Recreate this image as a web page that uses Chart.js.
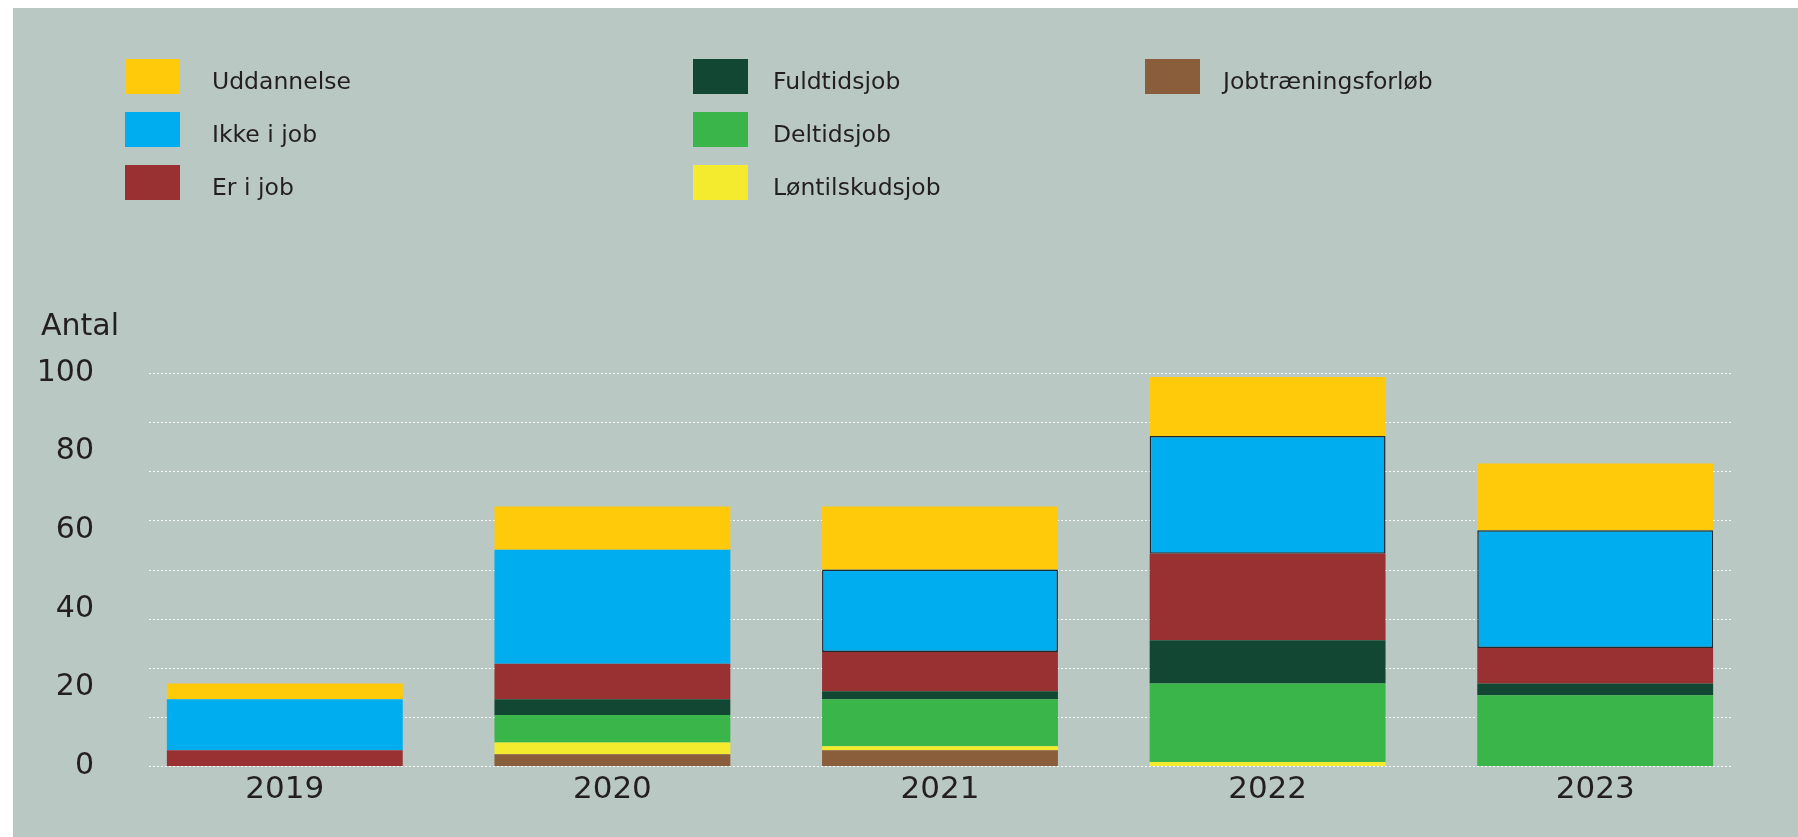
<!DOCTYPE html>
<html>
<head>
<meta charset="utf-8">
<script src="https://cdn.jsdelivr.net/npm/chart.js@4.4.0/dist/chart.umd.min.js"></script>
<style>
  html, body { margin: 0; padding: 0; background: #fff; }
  body { width: 1798px; height: 837px; position: relative; overflow: hidden;
         font-family: "DejaVu Sans", Verdana, sans-serif; color: #231f20; }
  #panel { position: absolute; left: 13px; top: 8px; right: 0; bottom: 0; background: #b9c8c2; }
  #chartBox { position: absolute; left: 0; top: 0; width: 1798px; height: 837px; }
  .legend-item { position: absolute; height: 35px; }
  .swatch { position: absolute; left: 0; top: 0; width: 55px; height: 35px; }
  .legend-label { position: absolute; top: 5px; line-height: 35px; font-size: 23.5px; white-space: nowrap; }
  #yTitle { position: absolute; left: 41px; top: 307px; font-size: 30px; line-height: 36px; }
</style>
</head>
<body>
<div id="panel"></div>
<div id="chartBox"><canvas id="myChart"></canvas></div>
<div id="legend"></div>
<div id="yTitle">Antal</div>
<script>
// data (stacked from the bottom up)
const years = ['2019', '2020', '2021', '2022', '2023'];
const jobtraening = [0, 3, 4, 0, 0];
const loentilskud = [0, 3, 1, 1, 0];
const deltid = [0, 7, 12, 20, 18];
const fuldtid = [0, 4, 2, 11, 3];
const erIJob = [4, 9, 10, 22, 9];
const ikkeIJob = [13, 29, 21, 30, 30];
const uddannelse = [4, 11, 16, 15, 17];

const yTicks = [0, 20, 40, 60, 80, 100];
const gridTicks = [0, 12.5, 25, 37.5, 50, 62.5, 75, 87.5, 100];

// legend layout: columns / rows
const legendCols = [
    ['Uddannelse', 'Ikke i job', 'Er i job'],
    ['Fuldtidsjob', 'Deltidsjob', 'Løntilskudsjob'],
    ['Jobtræningsforløb']
];
const colX = [125, 693, 1145];
const textX = [212, 773, 1223];
const rowY = [59, 112, 165];
const gridInset = 28;

const datasets = [
    { label: 'Jobtræningsforløb', data: jobtraening, backgroundColor: '#8a5d3b' },
    { label: 'Løntilskudsjob', data: loentilskud, backgroundColor: '#f4eb2e' },
    { label: 'Deltidsjob', data: deltid, backgroundColor: '#3ab54a' },
    { label: 'Fuldtidsjob', data: fuldtid, backgroundColor: '#124833' },
    { label: 'Er i job', data: erIJob, backgroundColor: '#993133' },
    { label: 'Ikke i job', data: ikkeIJob, backgroundColor: '#00aeef',
      borderColor: '#1b2a33', borderWidth: [0, 0, 1.5, 1.5, 1.5], borderSkipped: false },
    { label: 'Uddannelse', data: uddannelse, backgroundColor: '#ffca0a' }
];

// html legend
const legend = document.getElementById('legend');
legendCols.forEach((col, c) => {
    col.forEach((name, r) => {
        const ds = datasets.find(d => d.label === name);
        const item = document.createElement('div');
        item.className = 'legend-item';
        item.style.left = colX[c] + 'px';
        item.style.top = rowY[r] + 'px';
        item.innerHTML = '<div class="swatch" style="background:' + ds.backgroundColor + '"></div>' +
            '<div class="legend-label" style="left:' + (textX[c] - colX[c]) + 'px">' + name + '</div>';
        legend.appendChild(item);
    });
});

// dotted grid lines, inset from the category area
const dottedGrid = {
    id: 'dottedGrid',
    beforeDatasetsDraw(chart) {
        const { ctx, chartArea, scales } = chart;
        ctx.save();
        ctx.strokeStyle = 'rgba(255,255,255,0.9)';
        ctx.lineWidth = 1;
        ctx.setLineDash([2, 2]);
        gridTicks.forEach(v => {
            const y = Math.round(scales.y.getPixelForValue(v)) + 0.5;
            ctx.beginPath();
            ctx.moveTo(chartArea.left + gridInset, y);
            ctx.lineTo(chartArea.right - gridInset, y);
            ctx.stroke();
        });
        ctx.restore();
    }
};

Chart.defaults.font.family = '"DejaVu Sans", Verdana, sans-serif';
Chart.defaults.color = '#231f20';

const ctx = document.getElementById('myChart').getContext('2d');
const chart = new Chart(ctx, {
    type: 'bar',
    data: { labels: years, datasets: datasets },
    options: {
        responsive: true,
        maintainAspectRatio: false,
        animation: false,
        layout: { padding: { top: 373, right: 39, bottom: 0, left: 0 } },
        datasets: { bar: { categoryPercentage: 1, barPercentage: 0.72 } },
        plugins: { legend: { display: false }, tooltip: { enabled: false } },
        scales: {
            x: {
                stacked: true,
                grid: { display: false, drawTicks: false },
                border: { display: false },
                ticks: { font: { size: 31 }, padding: 5 },
                afterFit: (axis) => { axis.height = 71; }
            },
            y: {
                stacked: true,
                min: 0,
                max: 100,
                grid: { display: false, drawTicks: false },
                border: { display: false },
                ticks: { font: { size: 30 }, padding: 27 },
                afterBuildTicks: (axis) => { axis.ticks = yTicks.map(v => ({ value: v })); },
                afterFit: (axis) => { axis.width = 121; }
            }
        }
    },
    plugins: [dottedGrid]
});
</script>
</body>
</html>
